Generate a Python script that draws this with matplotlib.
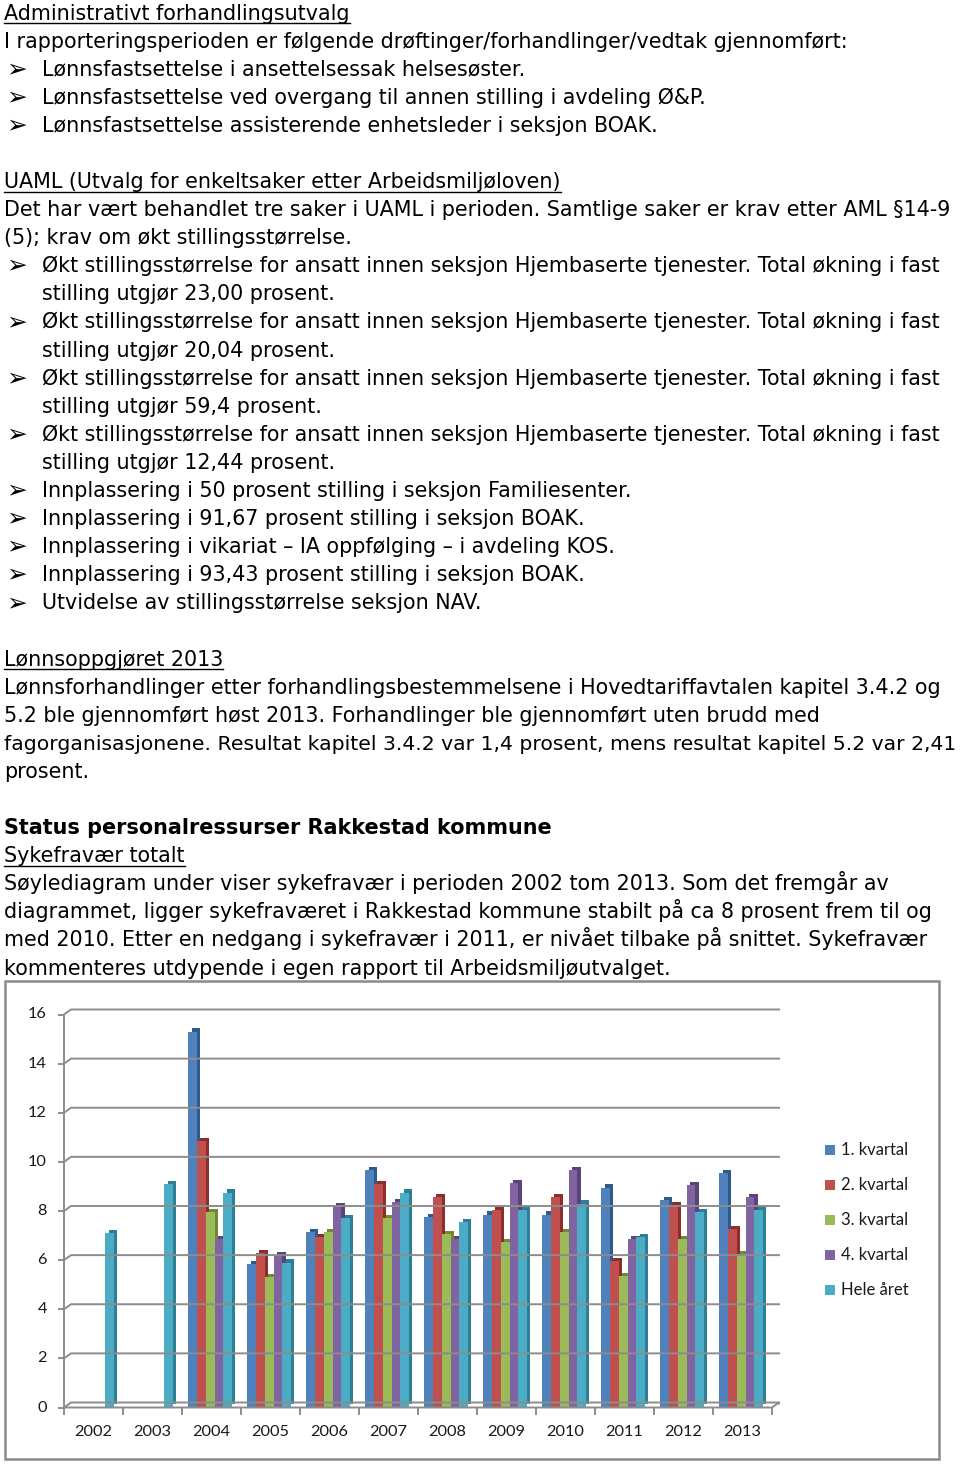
import numpy as np
import matplotlib
matplotlib.use("Agg")
import matplotlib.pyplot as plt
from matplotlib.transforms import ScaledTranslation, IdentityTransform
from matplotlib.lines import Line2D
from matplotlib.patches import Rectangle

# ---------------- data ----------------
years = ['2002', '2003', '2004', '2005', '2006', '2007', '2008', '2009', '2010', '2011', '2012', '2013']
series_names = ['1. kvartal', '2. kvartal', '3. kvartal', '4. kvartal', 'Hele året']
q1 = [np.nan, np.nan, 15.3, 5.85, 7.15, 9.65, 7.75, 7.85, 7.85, 8.95, 8.45, 9.55]
q2 = [np.nan, np.nan, 10.85, 6.3, 6.95, 9.1, 8.55, 8.05, 8.55, 5.95, 8.25, 7.25]
q3 = [np.nan, np.nan, 7.95, 5.3, 7.15, 7.7, 7.05, 6.75, 7.15, 5.35, 6.85, 6.25]
q4 = [np.nan, np.nan, 6.85, 6.2, 8.2, 8.35, 6.85, 9.15, 9.65, 6.85, 9.05, 8.55]
hele = [7.1, 9.1, 8.75, 5.9, 7.7, 8.75, 7.55, 8.05, 8.3, 6.95, 7.95, 8.05]
y_ticks = [0, 2, 4, 6, 8, 10, 12, 14, 16]

colors = ['#4F81BD', '#C0504D', '#9BBB59', '#8064A2', '#4BACC6']
dark = ['#2F5A8C', '#8C2F2C', '#6E8A36', '#5A4478', '#2E7F96']

# ---------------- text ----------------
B = 'bullet'
P = 'plain'
U = 'under'
C = 'cont'
H = 'bold'
lines = [
    (0, U, "Administrativt forhandlingsutvalg"),
    (1, P, "I rapporteringsperioden er følgende drøftinger/forhandlinger/vedtak gjennomført:"),
    (2, B, "Lønnsfastsettelse i ansettelsessak helsesøster."),
    (3, B, "Lønnsfastsettelse ved overgang til annen stilling i avdeling Ø&P."),
    (4, B, "Lønnsfastsettelse assisterende enhetsleder i seksjon BOAK."),
    (6, U, "UAML (Utvalg for enkeltsaker etter Arbeidsmiljøloven)"),
    (7, P, "Det har vært behandlet tre saker i UAML i perioden. Samtlige saker er krav etter AML §14-9"),
    (8, P, "(5); krav om økt stillingsstørrelse."),
    (9, B, "Økt stillingsstørrelse for ansatt innen seksjon Hjembaserte tjenester. Total økning i fast"),
    (10, C, "stilling utgjør 23,00 prosent."),
    (11, B, "Økt stillingsstørrelse for ansatt innen seksjon Hjembaserte tjenester. Total økning i fast"),
    (12, C, "stilling utgjør 20,04 prosent."),
    (13, B, "Økt stillingsstørrelse for ansatt innen seksjon Hjembaserte tjenester. Total økning i fast"),
    (14, C, "stilling utgjør 59,4 prosent."),
    (15, B, "Økt stillingsstørrelse for ansatt innen seksjon Hjembaserte tjenester. Total økning i fast"),
    (16, C, "stilling utgjør 12,44 prosent."),
    (17, B, "Innplassering i 50 prosent stilling i seksjon Familiesenter."),
    (18, B, "Innplassering i 91,67 prosent stilling i seksjon BOAK."),
    (19, B, "Innplassering i vikariat – IA oppfølging – i avdeling KOS."),
    (20, B, "Innplassering i 93,43 prosent stilling i seksjon BOAK."),
    (21, B, "Utvidelse av stillingsstørrelse seksjon NAV."),
    (23, U, "Lønnsoppgjøret 2013"),
    (24, P, "Lønnsforhandlinger etter forhandlingsbestemmelsene i Hovedtariffavtalen kapitel 3.4.2 og"),
    (25, P, "5.2 ble gjennomført høst 2013. Forhandlinger ble gjennomført uten brudd med"),
    (26, P, "fagorganisasjonene. Resultat kapitel 3.4.2 var 1,4 prosent, mens resultat kapitel 5.2 var 2,41"),
    (27, P, "prosent."),
    (29, H, "Status personalressurser Rakkestad kommune"),
    (30, U, "Sykefravær totalt"),
    (31, P, "Søylediagram under viser sykefravær i perioden 2002 tom 2013. Som det fremgår av"),
    (32, P, "diagrammet, ligger sykefraværet i Rakkestad kommune stabilt på ca 8 prosent frem til og"),
    (33, P, "med 2010. Etter en nedgang i sykefravær i 2011, er nivået tilbake på snittet. Sykefravær"),
    (34, P, "kommenteres utdypende i egen rapport til Arbeidsmiljøutvalget."),
]

W, Hpx = 960, 1464
fig = plt.figure(figsize=(W / 100, Hpx / 100), dpi=100)
fig.patch.set_facecolor('white')
renderer = fig.canvas.get_renderer()

TXT_FONT = 'DejaVu Sans'


def measure(txt, size, **kw):
    t = fig.text(0, 0, txt, fontsize=size, family=TXT_FONT, **kw)
    w = t.get_window_extent(renderer).width
    t.remove()
    return w


# fit font size to reference line widths
fs = 12 * 838.0 / measure(lines[1][2], 12)
fsb = 12 * 544.0 / measure("Status personalressurser Rakkestad kommune", 12, weight='bold')


def ypix(py):
    return 1 - py / Hpx


def xpix(px):
    return px / W


for idx, kind, txt in lines:
    base = 19.5 + 28.09 * idx
    if kind == B:
        fig.text(xpix(6), ypix(base + 0.5), '➢', fontsize=fs * 1.2, family=TXT_FONT,
                 va='baseline', ha='left')
        fig.text(xpix(42), ypix(base), txt, fontsize=fs, family=TXT_FONT, va='baseline', ha='left')
    elif kind == C:
        fig.text(xpix(42), ypix(base), txt, fontsize=fs, family=TXT_FONT, va='baseline', ha='left')
    elif kind == H:
        fig.text(xpix(4), ypix(base), txt, fontsize=fsb, family=TXT_FONT, weight='bold',
                 va='baseline', ha='left')
    else:
        size = fs
        wl = measure(txt, fs)
        if 4 + wl > 955:
            size = fs * (951.0 / wl)
        t = fig.text(xpix(4), ypix(base), txt, fontsize=size, family=TXT_FONT, va='baseline', ha='left')
        if kind == U:
            wpx = t.get_window_extent(renderer).width
            fig.add_artist(Line2D([xpix(4), xpix(4 + wpx)], [ypix(base + 3.5)] * 2,
                                  color='black', lw=1.0, transform=fig.transFigure))

# ---------------- chart ----------------
# outer border of chart object
fig.add_artist(Rectangle((xpix(5), ypix(1459)), (939 - 5) / W, (1459 - 981) / Hpx,
                         transform=fig.transFigure, fill=False, edgecolor='#8A8A8A', lw=1.8))

x_left, x_right = 64, 772
y_bot, y_top = 1407.5, 1014.5
ax = fig.add_axes([xpix(x_left), ypix(y_bot), (x_right - x_left) / W, (y_bot - y_top) / Hpx])
ax.set_xlim(-0.5, len(years) - 0.5)
ax.set_ylim(0, 16)
ax.patch.set_alpha(0)
for s in ax.spines.values():
    s.set_visible(False)
ax.set_xticks([])
ax.set_yticks([])

gray = '#8C8C8C'
DX, DY = 7, 5  # back-wall offset in pixels
fig.canvas.draw()
tD = ax.transData
x0, _ = tD.transform((-0.5, 0))
x1, _ = tD.transform((len(years) - 0.5, 0))
for v in y_ticks:
    _, yv = tD.transform((0, v))
    # gridline on back wall plus perspective join and tick
    fig.add_artist(Line2D([x0, x0 + DX, x1 + DX], [yv, yv + DY, yv + DY], color=gray, lw=1.4,
                          transform=IdentityTransform(), zorder=1))
    fig.add_artist(Line2D([x0 - 5, x0], [yv, yv], color=gray, lw=1.4, transform=IdentityTransform(), zorder=1))
    ax.text(-0.5, v, str(v), transform=tD + ScaledTranslation(-17 / 100, 0, fig.dpi_scale_trans),
            ha='right', va='center', fontsize=11.8, family='Lato', color='#1a1a1a')
_, yb = tD.transform((0, 0))
_, yt = tD.transform((0, 16))
# front y axis line
fig.add_artist(Line2D([x0, x0], [yb, yt], color=gray, lw=1.4, transform=IdentityTransform(), zorder=1))
# floor front edge and right end
fig.add_artist(Line2D([x0, x1, x1 + DX, x1 + DX], [yb, yb, yb + DY, yb + DY - 1],
                      color=gray, lw=1.4, transform=IdentityTransform(), zorder=1))
for k in range(len(years) + 1):
    xb, _ = tD.transform((k - 0.5, 0))
    fig.add_artist(Line2D([xb, xb], [yb, yb - 6], color=gray, lw=1.4, transform=IdentityTransform(), zorder=1))
for k, yr in enumerate(years):
    ax.text(k, 0, yr, transform=tD + ScaledTranslation(0, -25 / 100, fig.dpi_scale_trans),
            ha='center', va='center', fontsize=11.8, family='Lato', color='#1a1a1a')

# bars
series = [q1, q2, q3, q4, hele]
xs = np.arange(len(years))
bw = 0.148
shift = ScaledTranslation(3.2 / 100, 3.2 / 100, fig.dpi_scale_trans)
for i, vals in enumerate(series):
    pos = xs + (i - 2) * bw - 0.02
    z = 3 + i
    ax.bar(pos, vals, width=bw, color=dark[i], edgecolor='none', zorder=z,
           transform=ax.transData + shift)
    ax.bar(pos, vals, width=bw, color=colors[i], edgecolor='none', zorder=z + 0.5)

# legend
for i, name in enumerate(series_names):
    cy = 1150 + 35 * i
    fig.add_artist(Rectangle((xpix(825), ypix(cy + 5)), 10 / W, 10 / Hpx, transform=fig.transFigure,
                             facecolor=colors[i], edgecolor='none'))
    fig.text(xpix(841), ypix(cy), name, fontsize=12, family='Lato', va='center', ha='left', color='#1a1a1a')

fig.savefig('out.png', dpi=100, facecolor='white')
